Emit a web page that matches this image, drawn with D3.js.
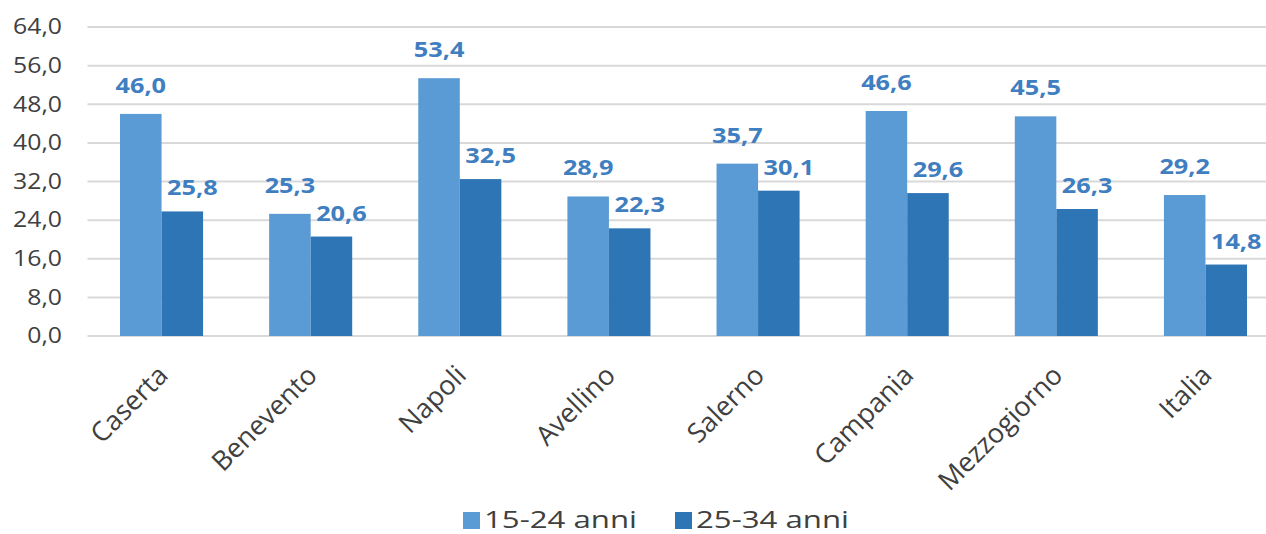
<!DOCTYPE html>
<html>
<head>
<meta charset="utf-8">
<script src="https://cdn.jsdelivr.net/npm/d3@7"></script>
<style>
  html, body { margin: 0; padding: 0; background: #fff; }
  svg { display: block; font-family: "Open Sans", "Lato", sans-serif; }
</style>
</head>
<body>
<svg id="chart" width="1266" height="534"></svg>
<script>
// Tasso di disoccupazione per classe di età
const categories = ["Caserta", "Benevento", "Napoli", "Avellino", "Salerno", "Campania", "Mezzogiorno", "Italia"];
const seriesNames = ["15-24 anni", "25-34 anni"];
const young = [46.0, 25.3, 53.4, 28.9, 35.7, 46.6, 45.5, 29.2];
const adult = [25.8, 20.6, 32.5, 22.3, 30.1, 29.6, 26.3, 14.8];
const yTicks = [0, 8, 16, 24, 32, 40, 48, 56, 64];

const colors = ["#5B9BD5", "#2E75B6"];
const labelColor = "#3F7EC0";
const textColor = "#404040";

const it = d3.formatLocale({ decimal: ",", thousands: ".", grouping: [3], currency: ["€", ""] });
const fmt = it.format(".1f");

const svg = d3.select("#chart");

const y = d3.scaleLinear().domain([0, 64]).range([336, 27]);
const x = d3.scaleBand().domain(categories).range([87.5, 1279.5])
  .paddingInner(0.443).paddingOuter(0.218);
const xs = d3.scaleBand().domain(seriesNames).range([0, x.bandwidth()]).padding(0);

// gridlines
svg.append("g").selectAll("line").data(yTicks).join("line")
  .attr("x1", 87.5).attr("x2", 1266)
  .attr("y1", d => y(d)).attr("y2", d => y(d))
  .attr("stroke", "#D9D9D9").attr("stroke-width", 2);

// y axis labels (slightly widened lettering)
svg.append("g").selectAll("text").data(yTicks).join("text")
  .attr("transform", d => `translate(62,${y(d)}) scale(1.18,1)`)
  .attr("text-anchor", "end").attr("dy", "0.35em")
  .attr("font-size", 21).attr("fill", textColor)
  .text(d => fmt(d));

const rows = categories.map((c, i) => ({ cat: c, vals: [young[i], adult[i]] }));

const groups = svg.append("g").selectAll("g").data(rows).join("g")
  .attr("transform", d => `translate(${x(d.cat)},0)`);

groups.selectAll("rect").data(d => d.vals.map((v, k) => ({ v, k }))).join("rect")
  .attr("x", d => xs(seriesNames[d.k]))
  .attr("width", xs.bandwidth())
  .attr("y", d => y(d.v))
  .attr("height", d => y(0) - y(d.v))
  .attr("fill", d => colors[d.k]);

// value labels
groups.selectAll("text").data(d => d.vals.map((v, k) => ({ v, k }))).join("text")
  .attr("transform", d => {
    const cx = xs(seriesNames[d.k]) + xs.bandwidth() / 2 + (d.k === 1 ? 10 : 0);
    const cy = y(d.v) - (d.k === 0 ? 21 : 16);
    return `translate(${cx},${cy}) scale(1.15,1)`;
  })
  .attr("text-anchor", "middle")
  .attr("font-size", 22).attr("font-weight", 700)
  .attr("fill", labelColor)
  .text(d => fmt(d.v));

// category labels, rotated
svg.append("g").selectAll("text").data(categories).join("text")
  .attr("transform", d => `translate(${x(d) + x.bandwidth() / 2 + 8},${377}) rotate(-45)`)
  .attr("text-anchor", "end")
  .attr("font-size", 27).attr("fill", textColor)
  .text(d => d);

// legend
const legend = svg.append("g");
const legendItems = [{ name: seriesNames[0], x: 463 }, { name: seriesNames[1], x: 675 }];
legendItems.forEach((d, k) => {
  legend.append("rect").attr("x", d.x).attr("y", 512).attr("width", 17).attr("height", 17).attr("fill", colors[k]);
  legend.append("text").attr("transform", `translate(${d.x + 21},528) scale(1.3,1)`)
    .attr("font-size", 24).attr("fill", textColor).text(d.name);
});
</script>
</body>
</html>
